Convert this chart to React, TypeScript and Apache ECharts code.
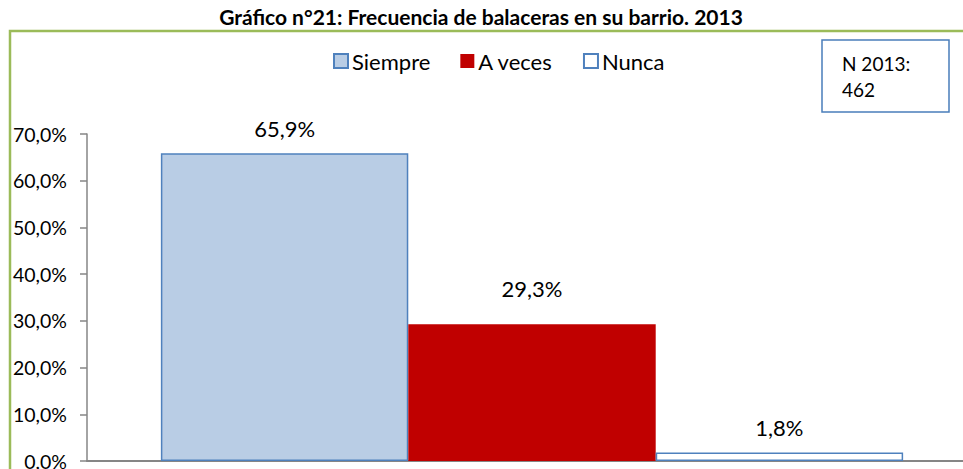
import React, { useEffect, useRef } from "react";
import * as echarts from "echarts";

const categories = [""];
const seriesNames = ["Siempre", "A veces", "Nunca"];
const siempre = [65.9];
const aVeces = [29.3];
const nunca = [1.8];
const yMin = 0;
const yMax = 70;
const yInterval = 10;
const titleText = "Gráfico n°21: Frecuencia de balaceras en su barrio. 2013";
const noteLines = ["N 2013:", "462"];

const FONT = "Lato, 'Open Sans', sans-serif";
const fmt = (v: number) => v.toFixed(1).replace(".", ",") + "%";

export default function App() {
  const ref = useRef<HTMLDivElement>(null);
  useEffect(() => {
    if (!ref.current) return;
    const chart = echarts.init(ref.current, null, { renderer: "svg" });
    const labelBase = {
      show: true,
      position: "top" as const,
      fontFamily: FONT,
      fontSize: 22,
      color: "#000",
      formatter: (p: any) => fmt(p.value),
    };
    chart.setOption({
      animation: false,
      backgroundColor: "#fff",
      textStyle: { fontFamily: FONT },
      grid: { left: 87, right: 23, top: 134, bottom: 59, containLabel: false },
      legend: {
        left: 333,
        top: 50,
        padding: 0,
        itemWidth: 14,
        itemHeight: 14,
        itemGap: 30,
        icon: "rect",
        textStyle: { fontFamily: FONT, fontSize: 22, color: "#000", padding: [0, 0, 0, -1] },
        data: seriesNames,
      },
      xAxis: {
        type: "category",
        data: categories,
        axisLine: { lineStyle: { color: "#868686", width: 2 } },
        axisTick: { show: false },
        axisLabel: { show: false },
      },
      yAxis: {
        type: "value",
        min: yMin,
        max: yMax,
        interval: yInterval,
        axisLine: { show: true, lineStyle: { color: "#868686", width: 1.5 } },
        axisTick: { show: true, inside: false, length: 7, lineStyle: { color: "#868686", width: 1.5 } },
        splitLine: { show: false },
        axisLabel: {
          margin: 20,
          fontFamily: FONT,
          fontSize: 19.5,
          color: "#000",
          formatter: (v: number) => fmt(v),
        },
      },
      series: [
        {
          name: seriesNames[0],
          type: "bar",
          data: siempre,
          barGap: "0%",
          barCategoryGap: "16.6%",
          itemStyle: { color: "#b9cde5", borderColor: "#4f81bd", borderWidth: 1.5 },
          label: { ...labelBase, distance: 14 },
        },
        {
          name: seriesNames[1],
          type: "bar",
          data: aVeces,
          barGap: "0%",
          barCategoryGap: "16.6%",
          itemStyle: { color: "#c00000" },
          label: { ...labelBase, distance: 25 },
        },
        {
          name: seriesNames[2],
          type: "bar",
          data: nunca,
          barGap: "0%",
          barCategoryGap: "16.6%",
          itemStyle: { color: "#ffffff", borderColor: "#4f81bd", borderWidth: 1.5 },
          label: { ...labelBase, distance: 14 },
        },
      ],
      graphic: [
        {
          type: "rect",
          shape: { x: 10, y: 31, width: 1100, height: 700 },
          style: { fill: "none", stroke: "#9bbb59", lineWidth: 2.5 },
          silent: true,
          z: 0,
        },
        {
          type: "text",
          x: 481,
          y: 16,
          style: {
            text: titleText,
            fontFamily: FONT,
            fontSize: 21,
            fontWeight: "bold",
            fill: "#000",
            textAlign: "center",
            textVerticalAlign: "middle",
          },
        },
        {
          type: "rect",
          shape: { x: 822, y: 40, width: 127, height: 72 },
          style: { fill: "#fff", stroke: "#4a7ebb", lineWidth: 1.5 },
        },
        {
          type: "text",
          x: 842,
          y: 63,
          style: {
            text: noteLines[0],
            fontFamily: FONT,
            fontSize: 19,
            fill: "#000",
            textVerticalAlign: "middle",
          },
        },
        {
          type: "text",
          x: 842,
          y: 89,
          style: {
            text: noteLines[1],
            fontFamily: FONT,
            fontSize: 19,
            fill: "#000",
            textVerticalAlign: "middle",
          },
        },
      ],
    });
    return () => chart.dispose();
  }, []);
  return (
    <div style={{ position: "fixed", left: 0, top: 0, width: 963, height: 469, overflow: "hidden", background: "#fff" }}>
      <div ref={ref} style={{ width: 1000, height: 520 }} />
    </div>
  );
}
